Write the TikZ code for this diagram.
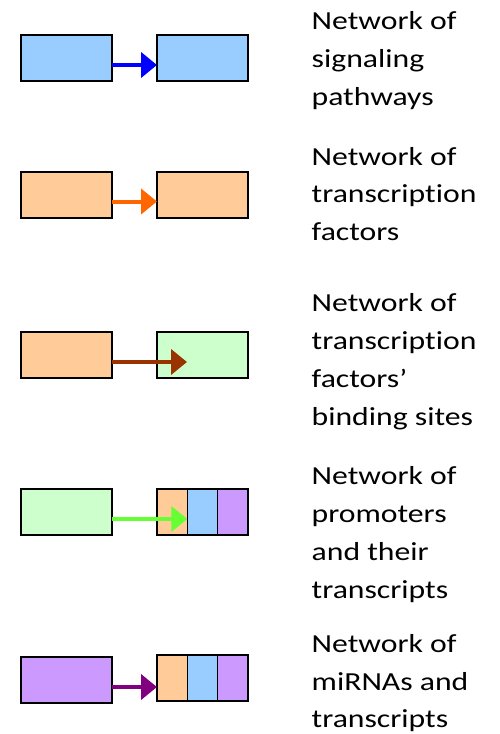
\documentclass[tikz,border=0pt]{standalone}
\usepackage{fontspec}
\usepackage{graphicx}
\setmainfont{Carlito}[Ligatures={NoCommon,NoRequired,NoContextual}]
\usetikzlibrary{arrows.meta}
\definecolor{fblue}{HTML}{99CCFF}
\definecolor{forange}{HTML}{FFCC99}
\definecolor{fgreen}{HTML}{CCFFCC}
\definecolor{fpurple}{HTML}{CC99FF}
\definecolor{ablue}{HTML}{0000FF}
\definecolor{aorange}{HTML}{FF6600}
\definecolor{abrown}{HTML}{993300}
\definecolor{agreen}{HTML}{66FF33}
\definecolor{apurple}{HTML}{800080}
\newcommand\squash[1]{\scalebox{1}[0.82]{#1}}
\begin{document}
\begin{tikzpicture}[x=1pt,y=-1pt,
  box/.style={draw=black,line width=1.5pt,minimum width=91pt,minimum height=46pt,inner sep=0pt,outer sep=0pt,anchor=north west},
  seg/.style={box,minimum width=30.33pt},
  arr/.style={line width=4pt,-{Triangle[length=16pt,width=25pt]}},
  lbl/.style={anchor=base west,inner sep=0pt,font=\fontsize{31.7}{38}\selectfont}]
\useasboundingbox[fill=white] (0,0) rectangle (499,734);
% row 1
\node[box,fill=fblue] (L1) at (21,35) {};
\node[box,fill=fblue] (R1) at (157,35) {};
\draw[arr,ablue] ([yshift=-7pt]L1.east) coordinate (a1) -- (a1 -| R1.west);
% row 2
\node[box,fill=forange] (L2) at (21,172) {};
\node[box,fill=forange] (R2) at (157,172) {};
\draw[arr,aorange] ([yshift=-6.5pt]L2.east) coordinate (a2) -- (a2 -| R2.west);
% row 3
\node[box,fill=forange] (L3) at (21,332) {};
\node[box,fill=fgreen] (R3) at (157,332) {};
\coordinate (m3) at ([xshift=30pt]R3.west);
\draw[arr,abrown] ([yshift=-7pt]L3.east) coordinate (a3) -- (a3 -| m3);
% row 4
\node[box,fill=fgreen] (L4) at (21,489) {};
\node[seg,fill=forange] (R4a) at (157,489) {};
\node[seg,fill=fblue] (R4b) at (187.33,489) {};
\node[seg,fill=fpurple] (R4c) at (217.67,489) {};
\draw[arr,agreen] ([yshift=-7pt]L4.east) coordinate (a4) -- (a4 -| R4b.west);
% row 5
\node[box,fill=fpurple] (L5) at (21,657) {};
\node[seg,fill=forange] (R5a) at (157,655) {};
\node[seg,fill=fblue] (R5b) at (187.33,655) {};
\node[seg,fill=fpurple] (R5c) at (217.67,655) {};
\draw[arr,apurple] ([yshift=-7pt]L5.east) coordinate (a5) -- (a5 -| R5a.west);
% labels
\node[lbl] (t1a) at (311.5,29) {\squash{Network of}};
\node[lbl] (t1b) at (311.5,67) {\squash{signaling}};
\node[lbl] (t1c) at (311.5,105) {\squash{pathways}};
\node[lbl] (t2a) at (311.5,165) {\squash{Network of}};
\node[lbl] (t2b) at (311.5,202) {\squash{transcription}};
\node[lbl] (t2c) at (311.5,240) {\squash{factors}};
\node[lbl] (t3a) at (311.5,311.5) {\squash{Network of}};
\node[lbl] (t3b) at (311.5,349.5) {\squash{transcription}};
\node[lbl] (t3c) at (311.5,387.5) {\squash{factors’}};
\node[lbl] (t3d) at (311.5,425.5) {\squash{binding sites}};
\node[lbl] (t4a) at (311.5,484) {\squash{Network of}};
\node[lbl] (t4b) at (311.5,522) {\squash{promoters}};
\node[lbl] (t4c) at (311.5,560) {\squash{and their}};
\node[lbl] (t4d) at (311.5,598) {\squash{transcripts}};
\node[lbl] (t5a) at (311.5,652) {\squash{Network of}};
\node[lbl] (t5b) at (311.5,690) {\squash{miRNAs and}};
\node[lbl] (t5c) at (311.5,727) {\squash{transcripts}};
\end{tikzpicture}
\end{document}
